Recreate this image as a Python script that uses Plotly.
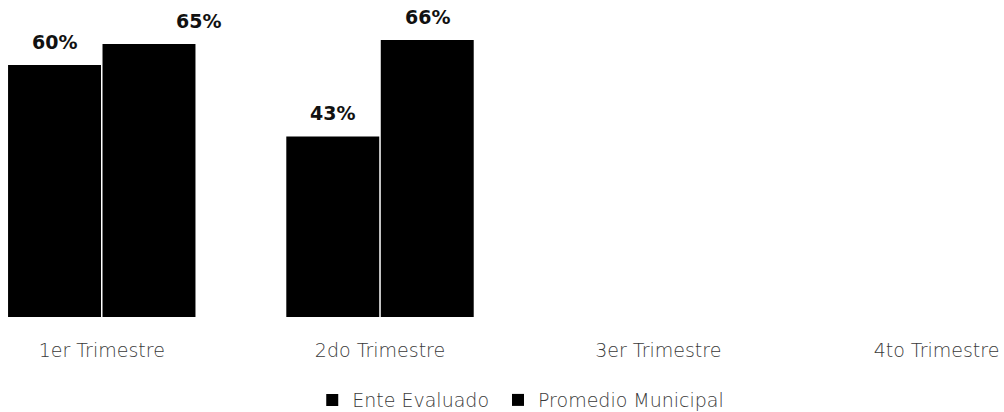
import plotly.graph_objects as go

# Quarterly compliance percentages
trimestres = ["1er Trimestre", "2do Trimestre", "3er Trimestre", "4to Trimestre"]
ente_evaluado = [60, 43, None, None]
promedio_municipal = [65, 66, None, None]

series = [
    ("Ente Evaluado", ente_evaluado),
    ("Promedio Municipal", promedio_municipal),
]

BARGAP = 0.321
GROUPGAP = 0.016
# horizontal nudge of each value label (points), per series
label_xshift = [[0, 0], [50, 0]]
# each series gets its own legend box, laid out side by side
legend_ids = ["legend", "legend2"]
legend_x = [0.311, 0.496]

TEXT_FONT = dict(family="DejaVu Sans", size=19, color="#3a3a3a", weight=300)

fig = go.Figure()
for (name, vals), lg in zip(series, legend_ids):
    fig.add_trace(go.Bar(
        x=list(range(len(trimestres))),
        y=vals,
        name=name,
        legend=lg,
        marker=dict(color="#000000", line=dict(width=0)),
    ))

# value labels placed over each bar
half = (1 - BARGAP) / 4
for s, (name, vals) in enumerate(series):
    offset = -half if s == 0 else half
    for i, v in enumerate(vals):
        if v is None:
            continue
        fig.add_annotation(
            x=i + offset, y=v, xref="x", yref="y",
            text=f"{v}%", showarrow=False,
            yanchor="middle", yshift=23,
            xshift=label_xshift[s][i] if i < len(label_xshift[s]) else 0,
            font=dict(family="DejaVu Sans", size=19, color="#111111", weight="bold"),
        )

legend_common = dict(
    orientation="h", xanchor="left",
    yref="container", y=0.029, yanchor="middle",
    font=TEXT_FONT, itemwidth=30,
)

fig.update_layout(
    width=1004, height=412,
    margin=dict(l=0, r=0, t=0, b=95, autoexpand=False),
    paper_bgcolor="white", plot_bgcolor="white",
    barmode="group", bargap=BARGAP, bargroupgap=GROUPGAP,
    showlegend=True,
    legend=dict(x=legend_x[0], **legend_common),
    legend2=dict(x=legend_x[1], **legend_common),
    xaxis=dict(
        range=[-0.3657, 3.2425],
        automargin=False,
        tickmode="array",
        tickvals=list(range(len(trimestres))),
        ticktext=trimestres,
        showgrid=False, zeroline=False, showline=False, ticks="",
        ticklabelstandoff=20,
        tickfont=TEXT_FONT,
    ),
    yaxis=dict(
        range=[0, 75.5], visible=False, showgrid=False, zeroline=False,
        automargin=False,
    ),
)

fig.write_html("out.html")
